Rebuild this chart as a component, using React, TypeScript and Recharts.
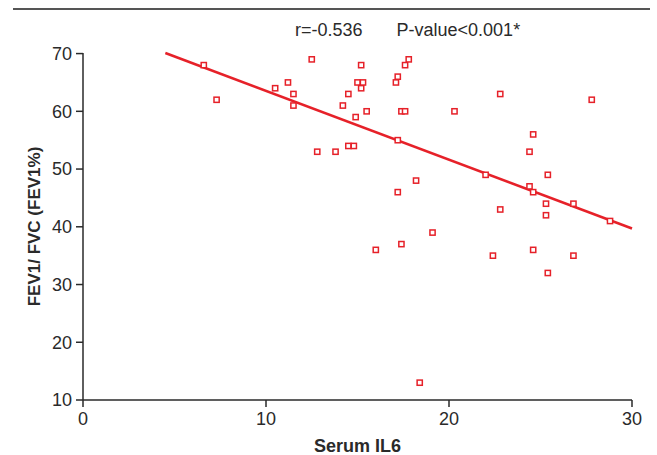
import { ScatterChart, Scatter, XAxis, YAxis } from 'recharts'

const il6 = [
  6.6, 7.3, 10.5, 11.2, 11.5, 11.5, 12.5, 12.8, 13.8, 14.2, 14.5, 14.5, 14.8, 14.9, 15.0, 15.2, 15.2, 15.3, 15.5,
  16.0, 17.1, 17.2, 17.2, 17.2, 17.4, 17.4, 17.6, 17.6, 17.8, 18.2, 18.4, 19.1, 20.3, 22.0, 22.4, 22.8, 22.8,
  24.4, 24.4, 24.6, 24.6, 24.6, 25.3, 25.3, 25.4, 25.4, 26.8, 26.8, 27.8, 28.8,
]
const fevRatio = [
  68, 62, 64, 65, 63, 61, 69, 53, 53, 61, 63, 54, 54, 59, 65, 68, 64, 65, 60,
  36, 65, 66, 55, 46, 37, 60, 60, 68, 69, 48, 13, 39, 60, 49, 35, 63, 43,
  53, 47, 56, 46, 36, 44, 42, 49, 32, 44, 35, 62, 41,
]
const fitX = [4.5, 30]
const fitY = [70.1, 39.7]
const xTicks = [0, 10, 20, 30]
const yTicks = [10, 20, 30, 40, 50, 60, 70]

const points = il6.map((x, i) => ({ x, y: fevRatio[i] }))
const fitLine = fitX.map((x, i) => ({ x, y: fitY[i] }))

const RED = '#e62129'
const INK = '#2a2a2a'
const FONT = '"Liberation Sans", Arial, sans-serif'

const SquareDot = (props: any) => {
  const { cx, cy } = props
  if (cx == null || cy == null) return null
  return <rect x={cx - 2.6} y={cy - 2.6} width={5.2} height={5.2} fill="#fff" stroke={RED} strokeWidth={1.5} />
}

export default function App() {
  return (
    <div style={{ position: 'absolute', left: 0, top: 0, width: 657, height: 455, background: '#fff', fontFamily: FONT }}>
      <div style={{ position: 'absolute', left: 13, top: 8, width: 637, height: 2, background: '#555' }} />
      <div style={{ position: 'absolute', left: 295, top: 20, fontSize: 18, color: INK, whiteSpace: 'nowrap' }}>
        <span>r=-0.536</span>
        <span style={{ marginLeft: 34 }}>P-value&lt;0.001*</span>
      </div>
      <ScatterChart width={657} height={455} margin={{ top: 53, right: 25, bottom: 0, left: 0 }}>
        <XAxis
          type="number"
          dataKey="x"
          domain={[0, 30]}
          ticks={xTicks}
          tickSize={7}
          tickMargin={5}
          height={55}
          stroke={INK}
          strokeWidth={1.5}
          tick={{ fontSize: 18, fill: INK, fontFamily: FONT }}
          label={{ value: 'Serum IL6', position: 'insideBottom', offset: 3, style: { fontSize: 18, fontWeight: 'bold', fill: INK, fontFamily: FONT } }}
        />
        <YAxis
          type="number"
          dataKey="y"
          domain={[10, 70]}
          ticks={yTicks}
          tickSize={7}
          tickMargin={4}
          width={83}
          stroke={INK}
          strokeWidth={1.5}
          tick={{ fontSize: 18, fill: INK, fontFamily: FONT }}
          label={{ value: 'FEV1/ FVC (FEV1%)', angle: -90, position: 'center', dx: -8, style: { fontSize: 17, fontWeight: 'bold', fill: INK, fontFamily: FONT } }}
        />
        <Scatter
          data={fitLine}
          line={{ stroke: RED, strokeWidth: 2.6 }}
          shape={() => <g />}
          isAnimationActive={false}
        />
        <Scatter data={points} shape={SquareDot} isAnimationActive={false} />
      </ScatterChart>
    </div>
  )
}
